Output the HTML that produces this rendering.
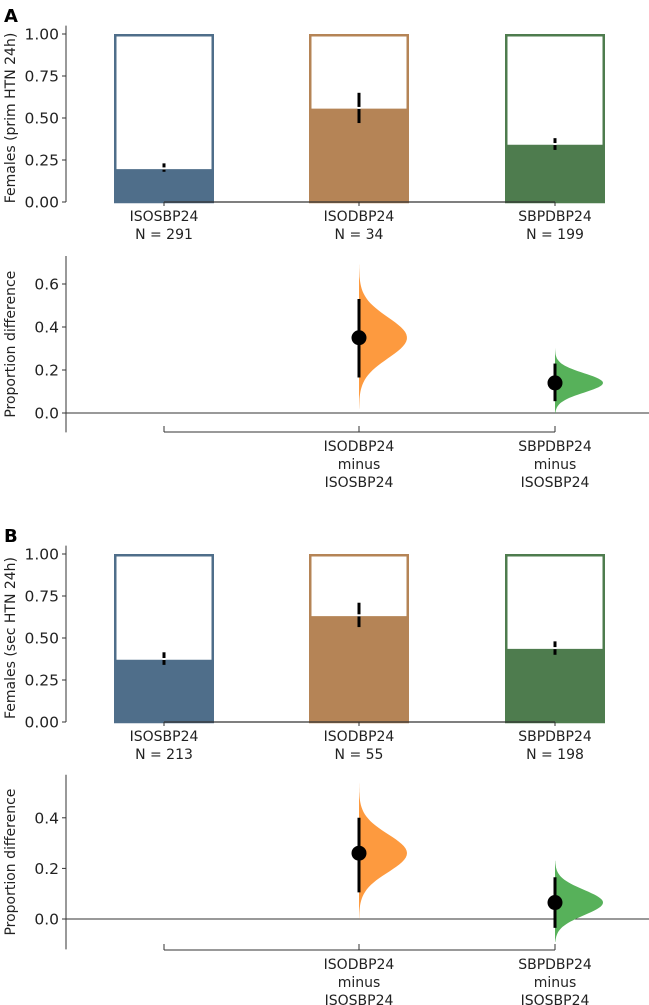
<!DOCTYPE html>
<html><head><meta charset="utf-8"><style>
body{margin:0;background:#fff}
svg{display:block;font-family:"DejaVu Sans","Liberation Sans",sans-serif}
</style></head><body>
<svg id="c" width="649" height="1005" viewBox="0 0 649 1005"></svg>
<script>
const groups=["ISOSBP24","ISODBP24","SBPDBP24"];
const colors=["#4f6e8a","#b58456","#4e7c4e"];
const violinColors=["#fd9a3f","#57b15a"];
const nA=[291,34,199];
const propA=[0.20,0.56,0.345];
const ciLoA=[0.18,0.47,0.31];
const ciHiA=[0.23,0.65,0.38];
const nB=[213,55,198];
const propB=[0.375,0.635,0.44];
const ciLoB=[0.34,0.565,0.40];
const ciHiB=[0.415,0.71,0.48];
const diffA=[0.35,0.14];
const diffLoA=[0.165,0.055];
const diffHiA=[0.53,0.23];
const diffSdA=[0.095,0.045];
const diffRangeA=[[0.02,0.69],[0.0,0.30]];
const diffB=[0.26,0.065];
const diffLoB=[0.105,-0.035];
const diffHiB=[0.40,0.165];
const diffSdB=[0.075,0.05];
const diffRangeB=[[0.0,0.54],[-0.09,0.23]];
const ticksTop=["0.00","0.25","0.50","0.75","1.00"];
const ticksDiffA=["0.0","0.2","0.4","0.6"];
const ticksDiffB=["0.0","0.2","0.4"];

const svg=document.getElementById('c');
const NS="http://www.w3.org/2000/svg";
function el(t,a,p){const e=document.createElementNS(NS,t);for(const k in a)e.setAttribute(k,a[k]);(p||svg).appendChild(e);return e;}
function txt(x,y,s,a,p){const e=el('text',Object.assign({x:x,y:y,'font-size':14,fill:'#222'},a||{}),p);e.textContent=s;return e;}
const xs=[164,359,555];
const axX=66;

function topPanel(name,letter,y0,ylab,prop,lo,hi,n){
  const g=el('g',{});
  
  
  const Y=v=>y0+168*(1-v);
  const L=txt(4,y0-12,letter,{'font-size':18,'font-weight':'bold',fill:'#000'},g);
  
  groups.forEach((gr,i)=>{
    const x=xs[i]-50;
    const f=el('rect',{x:x,y:Y(prop[i]),width:100,height:Y(0)-Y(prop[i]),fill:colors[i]},g);
    
    const o=el('rect',{x:x+1.25,y:Y(1)+1.25,width:97.5,height:Y(0)-Y(1)-1.25,fill:'none',stroke:colors[i],'stroke-width':2.5},g);
    
    el('line',{x1:x+2.5,x2:x+97.5,y1:Y(prop[i]),y2:Y(prop[i]),stroke:'#fff','stroke-width':1.5},g);
    const e=el('line',{x1:xs[i],x2:xs[i],y1:Y(lo[i]),y2:Y(hi[i]),stroke:'#000','stroke-width':3},g);
    
    el('line',{x1:xs[i],x2:xs[i],y1:Y(prop[i])-1,y2:Y(prop[i])+1,stroke:'#fff','stroke-width':3},g);
    const t1=txt(xs[i],Y(0)+19,gr,{'text-anchor':'middle'},g);
    
    const t2=txt(xs[i],Y(0)+37,'N = '+n[i],{'text-anchor':'middle'},g);
    
    el('line',{x1:xs[i],x2:xs[i],y1:Y(0),y2:Y(0)+4,stroke:'#333','stroke-width':1},g);
  });
  el('line',{x1:xs[0],x2:xs[2],y1:Y(0),y2:Y(0),stroke:'#333','stroke-width':1.2},g);
  el('line',{x1:axX,x2:axX,y1:Y(1.05),y2:Y(0),stroke:'#333','stroke-width':1},g);
  ticksTop.forEach(t=>{const v=parseFloat(t);
    el('line',{x1:axX-4,x2:axX,y1:Y(v),y2:Y(v),stroke:'#333'},g);
    txt(axX-7,Y(v)+5.5,t,{'text-anchor':'end','font-size':15.5},g);});
  const yl=txt(0,0,ylab,{'text-anchor':'middle',transform:`translate(15,${(Y(0)+Y(1))/2}) rotate(-90)`,'font-size':14},g);
  
}

function diffPanel(name,zeroY,scale,topV,botV,axisY,d,lo,hi,sd,rng,ticks){
  const g=el('g',{});
  
  
  const Y=v=>zeroY-scale*v;
  el('line',{x1:axX,x2:axX,y1:Y(topV),y2:Y(botV),stroke:'#333'},g);
  ticks.forEach(t=>{const v=parseFloat(t);
    el('line',{x1:axX-4,x2:axX,y1:Y(v),y2:Y(v),stroke:'#333'},g);
    txt(axX-7,Y(v)+5.5,t,{'text-anchor':'end','font-size':15.5},g);});
  const z=el('line',{x1:axX,x2:649,y1:Y(0),y2:Y(0),stroke:'#333','stroke-width':1},g);
  
  const yl=txt(0,0,'Proportion difference',{'text-anchor':'middle',transform:`translate(15,${(Y(topV)+Y(botV))/2}) rotate(-90)`,'font-size':14},g);
  
  el('line',{x1:xs[0],x2:xs[2],y1:axisY,y2:axisY,stroke:'#333'},g);
  xs.forEach(x=>el('line',{x1:x,x2:x,y1:axisY,y2:axisY-6,stroke:'#333'},g));
  [1,2].forEach(k=>{
    const i=k-1,x=xs[k];
    let pts=[];const N=60;
    for(let j=0;j<=N;j++){const v=rng[i][0]+(rng[i][1]-rng[i][0])*j/N;
      const w=48*Math.exp(-0.5*Math.pow((v-d[i])/sd[i],2));pts.push([x+w,Y(v)]);}
    let p=`M${x},${Y(rng[i][0])} `+pts.map(q=>`L${q[0].toFixed(1)},${q[1].toFixed(1)}`).join(' ')+` L${x},${Y(rng[i][1])} Z`;
    const v=el('path',{d:p,fill:violinColors[i]},g);
    
    const c=el('line',{x1:x,x2:x,y1:Y(lo[i]),y2:Y(hi[i]),stroke:'#000','stroke-width':3},g);
    
    const dot=el('circle',{cx:x,cy:Y(d[i]),r:7.5,fill:'#000'},g);
    
    [groups[k],'minus',groups[0]].forEach((s,m)=>{
      const t=txt(x,axisY+19+m*18,s,{'text-anchor':'middle'},g);
      });
  });
}
topPanel('a','A',34,'Females (prim HTN 24h)',propA,ciLoA,ciHiA,nA);
diffPanel('a',413,215,0.73,-0.09,432,diffA,diffLoA,diffHiA,diffSdA,diffRangeA,ticksDiffA);
topPanel('b','B',554,'Females (sec HTN 24h)',propB,ciLoB,ciHiB,nB);
diffPanel('b',919,253,0.57,-0.12,950,diffB,diffLoB,diffHiB,diffSdB,diffRangeB,ticksDiffB);
</script>
</body></html>
